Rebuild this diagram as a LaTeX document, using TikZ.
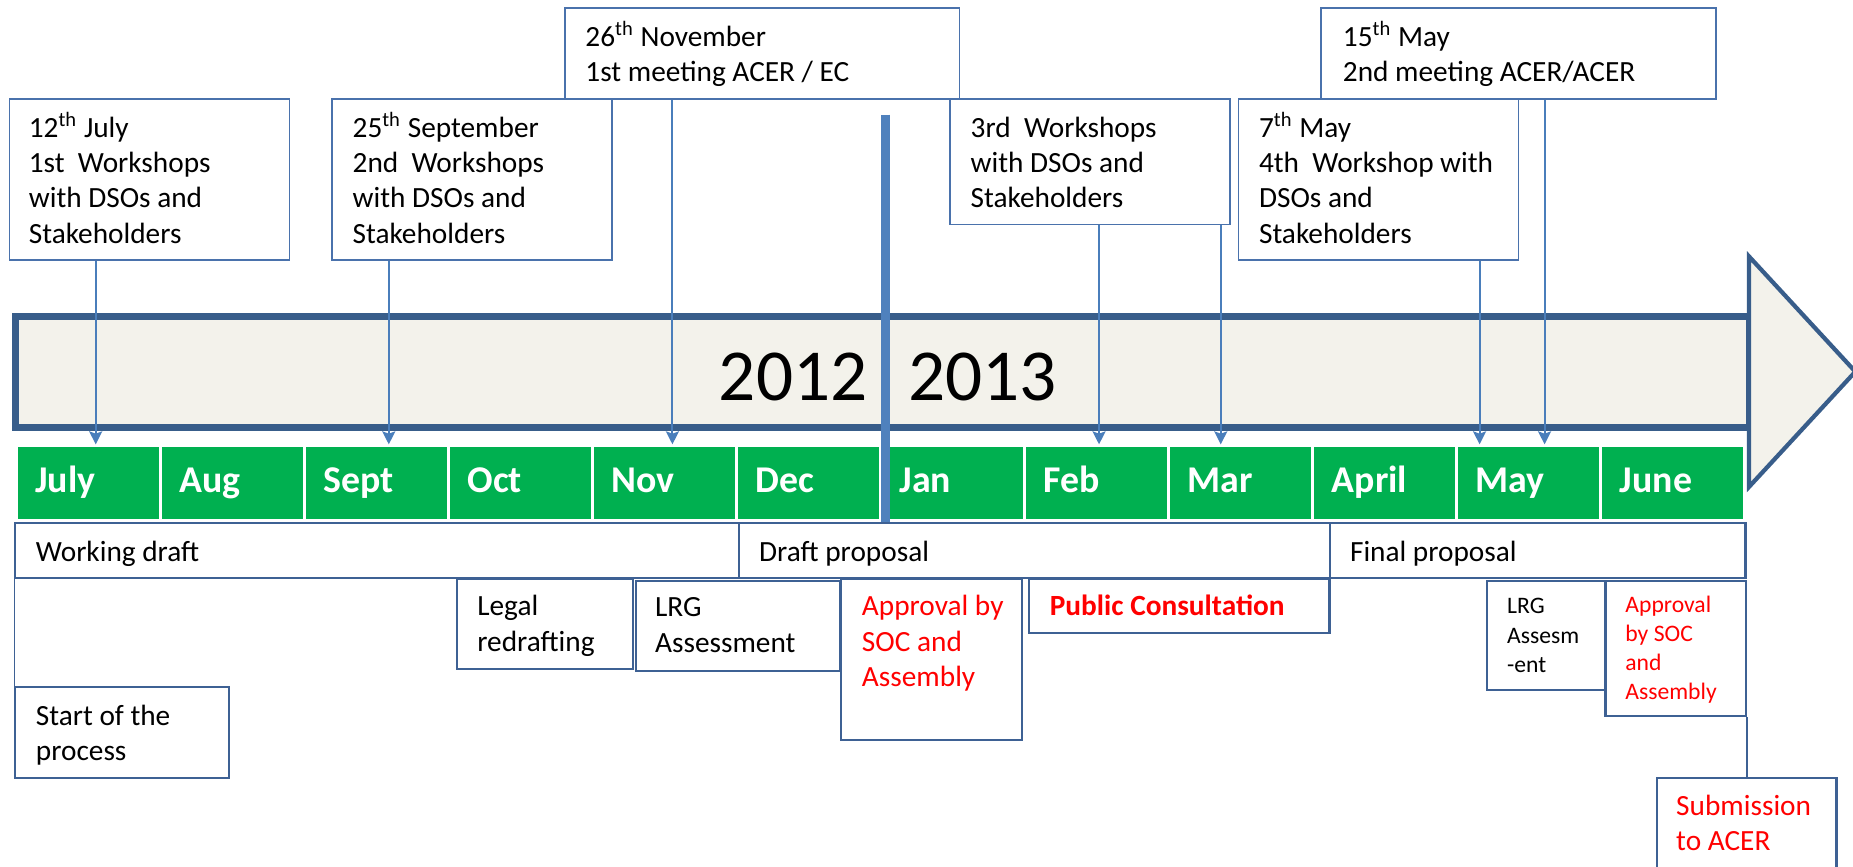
\documentclass[tikz,border=0pt]{standalone}
\usepackage{fontspec}
\setmainfont{Carlito}
\usepackage{tikz}
\usetikzlibrary{arrows.meta, fit, calc}
\usepackage{xcolor}

\definecolor{boxblue}{HTML}{4A72AC}
\definecolor{rowblue}{HTML}{3E6194}
\definecolor{tickblue}{HTML}{4A7EBB}
\definecolor{barblue}{HTML}{385D8A}
\definecolor{barfill}{HTML}{F3F2EB}
\definecolor{divblue}{HTML}{4F81BD}
\definecolor{monthgreen}{HTML}{00B050}

\begin{document}
\begin{tikzpicture}[x=0.5pt, y=-0.5pt,
	evbox/.style={draw=boxblue, line width=0.7pt, inner sep=0pt},
	rowbox/.style={draw=rowblue, line width=0.9pt, inner sep=0pt},
	txt/.style={anchor=base west, inner sep=0pt, align=left, font=\fontsize{12.4}{15}\selectfont},
	smalltxt/.style={txt, font=\fontsize{10}{12.3}\selectfont},
	tick/.style={draw=tickblue, line width=0.85pt, -{Stealth[length=5.5pt, width=5.5pt, inset=1pt]}},
	link/.style={draw=rowblue, line width=0.6pt},
	cell/.style={fill=monthgreen, inner sep=0pt, minimum width=59.75pt, minimum height=30.5pt, anchor=north west},
	mname/.style={anchor=base west, inner sep=0pt, text=white, font=\fontsize{16}{19}\selectfont\bfseries},
	year/.style={anchor=base west, inner sep=0pt, font=\fontsize{31}{36}\selectfont}]
	\useasboundingbox (0,0) rectangle (1568,733);

	% timeline bar
	\draw [barblue, line width=2.8pt, fill=barfill] (13,268) rectangle (1480,362);
	\draw [barblue, line width=1.8pt, fill=barfill, line join=miter] (1480,217) -- (1570,314.5) -- (1480,412) -- cycle;
	\node [year] (y12) at (608,339) {2012};
	\node [year] (y13) at (768,339) {2013};

	% months
	\foreach \m [count=\i] in {July,Aug,Sept,Oct,Nov,Dec,Jan,Feb,Mar,April,May,June} {
		\node [cell] (m\i) at ({14.5+(\i-1)*121.9},378) {};
		\node [mname] (ml\i) at ($(m\i.west)+(15,7.5)$) {\m};
	}

	% events above (text placed by the baseline of its last line)
	\node [evbox, fit={(8,84) (245,220)}] (ws1) {};
	\node [txt] (ws1t) at (24,206) {12\textsuperscript{th} July\\1st\ \ Workshops\\with DSOs and\\Stakeholders};
	\node [evbox, fit={(281,84) (518,220)}] (ws2) {};
	\node [txt] (ws2t) at (298,206) {25\textsuperscript{th} September\\2nd\ \ Workshops\\with DSOs and\\Stakeholders};
	\node [evbox, fit={(478,7) (812,84)}] (mt1) {};
	\node [txt] (mt1t) at (495,69) {26\textsuperscript{th} November\\1st meeting ACER / EC};
	\node [evbox, fit={(804,84) (1041,190)}] (ws3) {};
	\node [txt] (ws3t) at (821,176) {3rd\ \ Workshops\\with DSOs and\\Stakeholders};
	\node [evbox, fit={(1048,84) (1285,220)}] (ws4) {};
	\node [txt] (ws4t) at (1065,206) {7\textsuperscript{th} May\\4th\ \ Workshop with\\DSOs and\\Stakeholders};
	\node [evbox, fit={(1118,7) (1452,84)}] (mt2) {};
	\node [txt] (mt2t) at (1136,69) {15\textsuperscript{th} May\\2nd meeting ACER/ACER};

	\coordinate (t1) at (81,376);
	\coordinate (t2) at (329,376);
	\coordinate (t3) at (569,376);
	\coordinate (t4) at (930,376);
	\coordinate (t5) at (1033,376);
	\coordinate (t6) at (1252,376);
	\coordinate (t7) at (1307,376);
	\draw [tick] (ws1.south -| t1) -- (t1);
	\draw [tick] (ws2.south -| t2) -- (t2);
	\draw [tick] (mt1.south -| t3) -- (t3);
	\draw [tick] (ws3.south -| t4) -- (t4);
	\draw [tick] (ws3.south -| t5) -- (t5);
	\draw [tick] (ws4.south -| t6) -- (t6);
	\draw [tick] (mt2.south -| t7) -- (t7);

	\draw [divblue, line width=3.7pt] (749,97) -- (749,442);

	% phases
	\node [rowbox, fit={(13,442.5) (625,489)}] (wd) {};
	\node [txt] (wdt) at (30,475) {Working draft};
	\node [rowbox, fit={(625,442.5) (1125.5,489)}] (dp) {};
	\node [txt] (dpt) at (642,475) {Draft proposal};
	\node [rowbox, fit={(1125.5,442.5) (1477,489)}] (fp) {};
	\node [txt] (fpt) at (1142,475) {Final proposal};

	% steps below
	\node [rowbox, fit={(13,581) (194,658)}] (start) {};
	\node [txt] (startt) at (30,643.5) {Start of the\\process};
	\draw [link] (wd.south west) -- (start.north west);
	\node [rowbox, fit={(386.5,490) (535.5,566)}] (legal) {};
	\node [txt] (legalt) at (403.5,551) {Legal\\redrafting};
	\node [rowbox, fit={(538,491.5) (711,568)}] (lrg1) {};
	\node [txt] (lrg1t) at (554,552) {LRG\\Assessment};
	\node [rowbox, fit={(711.5,490) (865,626)}] (app1) {};
	\node [txt, text=red] (app1t) at (729,581) {Approval by\\SOC and\\Assembly};
	\node [rowbox, fit={(870.5,490) (1125,536)}] (pc) {};
	\node [txt, text=red, font=\fontsize{12.4}{15}\selectfont\bfseries] (pct) at (888,520.5) {Public Consultation};
	\node [rowbox, fit={(1258,491.5) (1358.5,584)}] (lrg2) {};
	\node [smalltxt] (lrg2t) at (1275,568.7) {LRG\\Assesm\\-ent};
	\node [rowbox, fit={(1358.5,491.5) (1477.5,606)}] (app2) {};
	\node [smalltxt, text=red] (app2t) at (1375,591.8) {Approval\\by SOC\\and\\Assembly};
	\node [rowbox, fit={(1402,658.5) (1554,760)}] (sub) {};
	\node [txt, text=red] (subt) at (1418,720) {Submission\\to ACER};
	\draw [link] (app2.south east) -- (app2.south east |- sub.north);
\end{tikzpicture}
\end{document}
